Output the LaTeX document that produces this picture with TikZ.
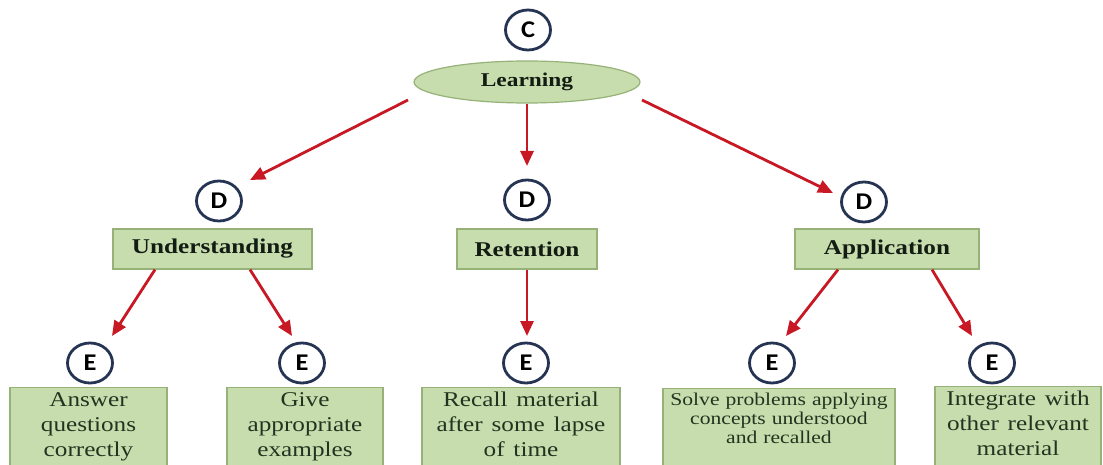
\documentclass[tikz,border=0pt]{standalone}
\usepackage{fontspec}
\setmainfont{Liberation Serif}[FakeStretch=1.2]
\newfontfamily\tagfont{Carlito}[FakeStretch=1.1]
\usetikzlibrary{arrows.meta,shapes.geometric}
\definecolor{lgreen}{RGB}{200,221,174}
\definecolor{bgreen}{RGB}{150,178,120}
\definecolor{tagblue}{RGB}{38,52,84}
\definecolor{arrred}{RGB}{200,24,36}
\definecolor{txtgreen}{RGB}{34,52,32}
\definecolor{txtdark}{RGB}{18,28,18}

\begin{document}
\begin{tikzpicture}[x=1pt,y=-1pt,
  tag/.style={ellipse,draw=tagblue,line width=2.8pt,fill=white,minimum width=45pt,
    minimum height=40pt,inner sep=0pt,font=\tagfont\bfseries\fontsize{24}{24}\selectfont},
  dbox/.style={rectangle,draw=bgreen,line width=1.2pt,fill=lgreen,minimum height=40pt,
    inner sep=0pt,font=\bfseries\fontsize{21}{24}\selectfont,text=txtdark},
  ebox/.style={rectangle,draw=bgreen,line width=1.2pt,fill=lgreen,anchor=north,align=center,
    inner xsep=3pt,inner ysep=3pt,text height=15.5pt,text depth=80pt,
    font=\fontsize{21}{25}\selectfont,text=txtgreen},
  widesp/.style={execute at begin node={\spaceskip=0.42em\relax}},
  arr/.style={draw=arrred,line width=2.8pt,-{Triangle[length=15pt,width=13pt]}}]
  \path[use as bounding box] (0,0) rectangle (1103,465);
  \clip (0,0) rectangle (1103,465);
  \fill[white] (0,0) rectangle (1103,465);

  % Top level
  \node[tag] (c) at (528,30) {C};
  \node[ellipse,draw=bgreen,line width=1.2pt,fill=lgreen,minimum width=226pt,minimum height=42pt,
    font=\bfseries\fontsize{19.5}{22}\selectfont,text=txtdark] (learn) at (527,82) {Learning};

  % Second level
  \node[tag] (d1) at (219,201) {D};
  \node[tag] (d2) at (527,200) {D};
  \node[tag] (d3) at (864,202) {D};
  \node[dbox,minimum width=199pt] (und) at (212.5,249) {Understanding};
  \node[dbox,minimum width=140pt] (ret) at (527,249) {Retention};
  \node[dbox,minimum width=184pt] (app) at (887,249) {Application};

  % Third level
  \node[tag] (e1) at (90,363) {E};
  \node[tag] (e2) at (302,363) {E};
  \node[tag] (e3) at (526,363) {E};
  \node[tag] (e4) at (772,363) {E};
  \node[tag] (e5) at (992,363) {E};
  \node[ebox,text width=151pt] (ans) at (88.5,387) {Answer\\questions\\correctly};
  \node[ebox,text width=150pt] (give) at (305,387) {Give\\appropriate\\examples};
  \node[ebox,widesp,text width=192pt] (rec) at (521,387) {Recall material\\after some lapse\\of time};
  \node[ebox,text width=226pt,text height=14pt,font=\fontsize{18}{19}\selectfont] (solve) at (779,388)
    {Solve problems applying\\concepts understood\\and recalled};
  \node[ebox,widesp,text width=160pt] (integ) at (1018,386) {Integrate with\\other relevant\\material};

  % Arrows
  \coordinate (ls) at (408,100);
  \coordinate (rs) at (642,100);
  \coordinate (toD1) at (250,180);
  \coordinate (toD2) at (527,166);
  \coordinate (toD3) at (833,193);
  \coordinate (toE1) at (112,336);
  \coordinate (toE2) at (292,336);
  \coordinate (toE3) at (527,336);
  \coordinate (toE4) at (786,336);
  \coordinate (toE5) at (972,336);
  \draw[arr] (ls) -- (toD1);
  \draw[arr] (learn.south) -- (toD2);
  \draw[arr] (rs) -- (toD3);
  \draw[arr] ([xshift=-57.5pt]und.south) -- (toE1);
  \draw[arr] ([xshift=37.5pt]und.south) -- (toE2);
  \draw[arr] (ret.south) -- (toE3);
  \draw[arr] ([xshift=-49pt]app.south) -- (toE4);
  \draw[arr] ([xshift=45pt]app.south) -- (toE5);
\end{tikzpicture}
\end{document}
